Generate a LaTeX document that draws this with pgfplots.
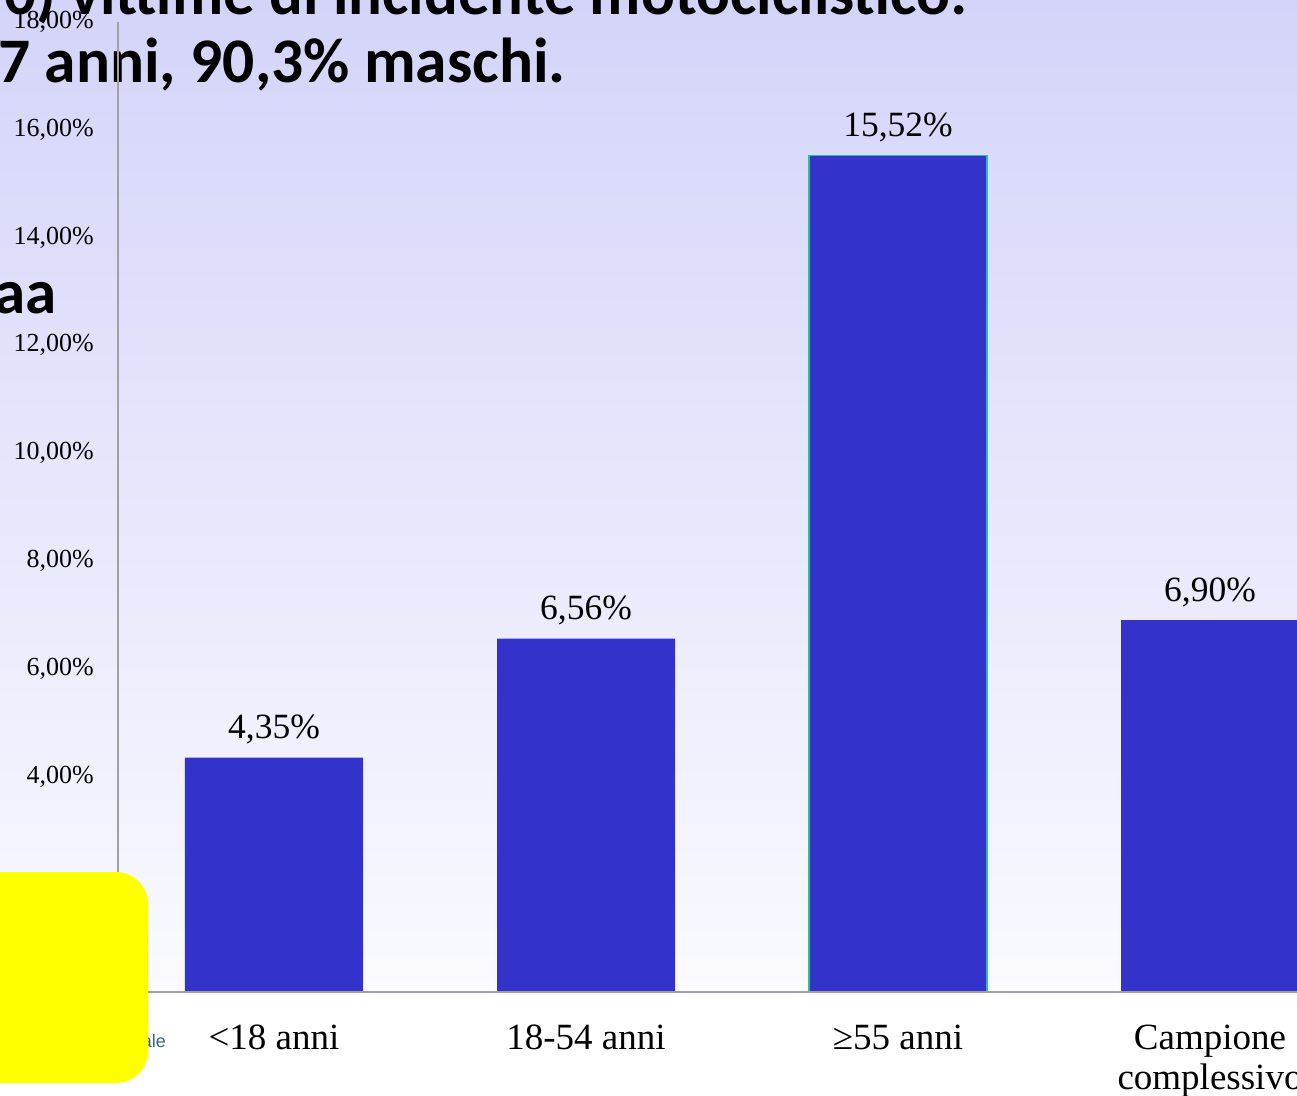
\documentclass[border=0pt]{standalone}
\usepackage{fontspec}
\setmainfont{Liberation Serif}
\newfontfamily\carlito{Carlito}
\newfontfamily\sansf{Liberation Sans}
\usepackage{pgfplots}
\pgfplotsset{compat=1.18}
\definecolor{barblue}{RGB}{51,51,204}
\definecolor{bgtop}{RGB}{212,212,250}
\definecolor{bgbot}{RGB}{250,250,255}
\definecolor{tealedge}{RGB}{40,190,160}
\definecolor{axgray}{RGB}{160,160,165}
\definecolor{footteal}{RGB}{55,100,135}
\definecolor{pureyellow}{RGB}{255,255,0}
\begin{document}
\begin{tikzpicture}
\useasboundingbox (0pt,0pt) rectangle (1297pt,-1095pt);
\clip (0pt,0pt) rectangle (1297pt,-1095pt);
\fill[white] (0pt,0pt) rectangle (1297pt,-1095pt);
\shade[top color=bgtop, bottom color=bgbot] (0pt,0pt) rectangle (1297pt,-995pt);
\node[anchor=base east, inner sep=0pt, font=\carlito\bfseries\fontsize{63}{70}\selectfont] at (968pt,-14pt) {(n=290) vittime di incidente motociclistico:};
\node[anchor=base west, inner sep=0pt, font=\carlito\bfseries\fontsize{63.5}{70}\selectfont] at (-2pt,-82pt) {7 anni, 90,3\% maschi.};
\node[anchor=base east, inner sep=0pt, font=\carlito\bfseries\fontsize{63}{70}\selectfont] at (57pt,-313pt) {aa};
\begin{axis}[
  at={(118pt,-992pt)}, anchor=south west,
  scale only axis, width=1248pt, height=970pt,
  xmin=-0.5, xmax=3.5, ymin=0, ymax=18,
  axis x line=bottom, axis y line=left,
  axis line style={-, draw=axgray, line width=1.2pt},
  axis on top,
  major tick length=0pt,
  /pgf/number format/assume math mode=true,
  ytick={0,2,...,18},
  yticklabel={\pgfmathprintnumber[fixed,fixed zerofill,precision=2,use comma]{\tick}\%},
  yticklabel style={font=\fontsize{26}{28}\selectfont, inner sep=0pt, anchor=east, xshift=-24pt},
  xtick={0,1,2,3},
  xticklabels={{<18 anni},{18-54 anni},{≥55 anni},{Campione\\complessivo}},
  xticklabel style={font=\fontsize{37}{40}\selectfont, align=center, anchor=north, inner sep=0pt, yshift=-33pt},
  ybar, bar width=178pt,
  nodes near coords={\pgfmathprintnumber[fixed,fixed zerofill,precision=2,use comma]{\pgfplotspointmeta}\%},
  every node near coord/.append style={font=\fontsize{35.5}{40}\selectfont, anchor=south, inner sep=0pt, yshift=13pt, text=black},
]
\addplot[fill=barblue, draw=none, bar shift=0pt] coordinates {(0,4.35) (1,6.56) (3,6.90)};
\addplot[fill=barblue, draw=tealedge, line width=1.5pt, bar shift=0pt] coordinates {(2,15.52)};
\end{axis}
\node[anchor=base east, inner sep=0pt, text=footteal, font=\sansf\fontsize{18}{20}\selectfont] at (166pt,-1047pt) {Nazionale};
\fill[pureyellow, rounded corners=32pt] (-40pt,-872pt) rectangle (148pt,-1083pt);
\end{tikzpicture}
\end{document}
